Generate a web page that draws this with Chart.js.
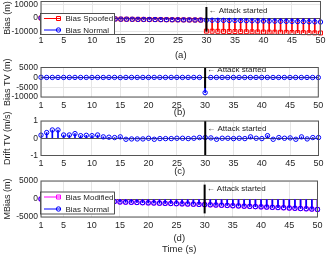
<!DOCTYPE html>
<html>
<head>
<meta charset="utf-8">
<script src="https://cdn.jsdelivr.net/npm/chart.js@4.4.0/dist/chart.umd.min.js"></script>
<style>
  html, body { margin: 0; padding: 0; background: #fff; overflow: hidden; }
  #wrap { position: relative; width: 326px; height: 255px; overflow: hidden; }
  #wrap canvas { position: absolute; left: 0; top: -12px; }
</style>
</head>
<body>
<div id="wrap">
  <canvas id="chartA" width="326" height="267"></canvas>
  <canvas id="chartB" width="326" height="267"></canvas>
  <canvas id="chartC" width="326" height="267"></canvas>
  <canvas id="chartD" width="326" height="267"></canvas>
</div>
<script>
// data
var timeSec = [1,2,3,4,5,6,7,8,9,10,11,12,13,14,15,16,17,18,19,20,21,22,23,24,25,
  26,27,28,29,30,31,32,33,34,35,36,37,38,39,40,41,42,43,44,45,46,47,48,49,50];
var xTicks = [1,5,10,15,20,25,30,35,40,45,50];

var biasNormal = [0,-60,-110,-170,-220,-280,-330,-390,-440,-500,-550,-610,-660,-700,-830,
  -880,-920,-980,-1030,-1080,-1120,-1170,-1220,-1260,-1300,-1350,-1400,-1450,-1500,-1560,
  -1620,-1680,-1740,-1800,-1870,-1930,-2000,-2060,-2120,-2190,-2250,-2320,-2380,-2440,-2510,
  -2580,-2650,-2720,-2800,-2900];
var biasSpoofed = [0,-60,-110,-170,-220,-280,-330,-390,-440,-500,-550,-610,-660,-700,-830,
  -880,-920,-980,-1030,-1080,-1120,-1170,-1220,-1260,-1300,-1350,-1400,-1450,-1500,-9560,
  -9620,-9680,-9740,-9800,-9870,-9930,-10000,-10060,-10120,-10190,-10250,-10320,-10380,-10440,-10510,
  -10580,-10650,-10720,-10800,-10900];
var biasTV = [0,-60,-50,-60,-50,-60,-50,-60,-50,-60,-50,-60,-50,-40,-130,
  -50,-40,-60,-50,-50,-40,-50,-50,-40,-40,-50,-50,-50,-50,-7800,
  -60,-60,-60,-60,-70,-60,-70,-60,-60,-70,-60,-70,-60,-60,-70,
  -70,-70,-70,-80,-100];
var driftTV = [0.18,0.33,0.48,0.48,0.19,0.19,0.27,0.15,0.17,0.15,0.19,0.08,0.06,0.04,0.08,
  -0.06,-0.04,-0.04,-0.04,0,-0.06,-0.02,-0.02,-0.02,0,0,-0.02,0,0.04,0.04,
  0.02,-0.06,0,0,-0.02,0,-0.02,0.08,0,-0.02,0.15,-0.06,0.04,0,0.02,
  -0.06,0.08,-0.04,0.04,0.04];
var biasModified = [0,-60,-110,-170,-220,-280,-330,-390,-440,-500,-550,-610,-660,-700,-830,
  -880,-920,-980,-1030,-1080,-1120,-1170,-1220,-1260,-1300,-1350,-1400,-1450,-1500,-1560,
  -1620,-1680,-1740,-1800,-1870,-1930,-2000,-2060,-2120,-2190,-2250,-2320,-2380,-2440,-2510,
  -2580,-2650,-2720,-2800,-2900];

var ticksA = [-10000, 0, 10000];
var ticksB = [-10000, -5000, 0, 5000];
var ticksC = [-1, 0, 1];
var ticksD = [-5000, 0, 5000];

var attackTime = 30;

var FONT = "'Liberation Sans', Arial, sans-serif";
var TXT = '#262626';
var SHIFT = 12; // canvases sit 12px above the page so top tick labels can overflow

function pts(vals) {
  return timeSec.map(function(t, i) { return { x: t, y: vals[i] }; });
}

// stems as 1px bars, markers as a line dataset without line
function stem(vals, color, order) {
  return { type: 'bar', data: pts(vals), backgroundColor: color, borderWidth: 0,
    barThickness: 1, grouped: false, order: order };
}
function marks(vals, color, style, r, order) {
  return { type: 'line', data: pts(vals), showLine: false, pointStyle: style,
    pointRadius: r, pointBorderWidth: 1, pointBorderColor: color,
    pointBackgroundColor: 'rgba(0,0,0,0)', clip: false, order: order };
}

var panelPlugin = {
  id: 'panel',
  beforeDatasetsDraw: function(chart) {
    // stem baseline at zero
    var ctx = chart.ctx, a = chart.chartArea;
    var y0 = Math.round(chart.scales.y.getPixelForValue(0)) + 0.5;
    ctx.save();
    ctx.strokeStyle = '#555';
    ctx.lineWidth = 1;
    ctx.beginPath();
    ctx.moveTo(a.left, y0);
    ctx.lineTo(a.right, y0);
    ctx.stroke();
    ctx.restore();
  },
  afterDatasetsDraw: function(chart, args, o) {
    var ctx = chart.ctx, a = chart.chartArea;
    var xs = chart.scales.x, ys = chart.scales.y;
    ctx.save();
    // attack marker
    var px = xs.getPixelForValue(attackTime);
    ctx.strokeStyle = '#000';
    ctx.lineWidth = 2;
    ctx.beginPath();
    ctx.moveTo(px, ys.getPixelForValue(o.lineTop));
    ctx.lineTo(px, ys.getPixelForValue(o.lineBottom));
    ctx.stroke();
    ctx.fillStyle = TXT;
    ctx.font = '8px ' + FONT;
    ctx.textBaseline = 'middle';
    ctx.textAlign = 'left';
    ctx.fillText('\u2190 Attack started', px + 2, ys.getPixelForValue(o.textY));
    // legend box
    if (o.legend) {
      var L = o.legend, ly = L.y + SHIFT;
      ctx.fillStyle = '#fff';
      ctx.fillRect(L.x, ly, L.w, L.h);
      ctx.strokeStyle = '#262626';
      ctx.lineWidth = 0.8;
      ctx.strokeRect(L.x + 0.5, ly + 0.5, L.w - 1, L.h - 1);
      L.items.forEach(function(it, i) {
        var yy = ly + L.row0 + i * L.rowH;
        ctx.strokeStyle = it.color;
        ctx.lineWidth = 1;
        ctx.beginPath();
        ctx.moveTo(L.x + 4, yy);
        ctx.lineTo(L.x + 20, yy);
        ctx.stroke();
        ctx.beginPath();
        if (it.style === 'rect') {
          ctx.rect(L.x + 16.5, yy - 2, 4, 4);
        } else {
          ctx.arc(L.x + 18.5, yy, 2.2, 0, Math.PI * 2);
        }
        ctx.stroke();
        ctx.fillStyle = TXT;
        ctx.font = '8px ' + FONT;
        ctx.fillText(it.label, L.x + 25.5, yy + 0.5);
      });
    }
    // axes box
    ctx.strokeStyle = '#555';
    ctx.lineWidth = 1;
    ctx.strokeRect(a.left, a.top, a.right - a.left, a.bottom - a.top);
    ctx.restore();
  }
};

function makePanel(id, datasets, cfg) {
  var ctx = document.getElementById(id).getContext('2d');
  return new Chart(ctx, {
    type: 'bar',
    data: { datasets: datasets },
    plugins: [panelPlugin],
    options: {
      responsive: false,
      animation: false,
      devicePixelRatio: 1,
      events: [],
      layout: { padding: { top: cfg.top + SHIFT, right: 5, left: 0, bottom: 255 - cfg.bottom - cfg.xH } },
      plugins: {
        legend: { display: false },
        tooltip: { enabled: false },
        panel: cfg.panel
      },
      scales: {
        x: {
          type: 'linear', min: 1, max: 50, offset: false,
          grid: { offset: false, color: '#e6e6e6', drawTicks: false },
          border: { display: false },
          ticks: { color: TXT, font: { family: FONT, size: 9 }, padding: cfg.tickPad, maxRotation: 0,
            autoSkip: false, callback: function(v) { return String(v); } },
          afterBuildTicks: function(s) { s.ticks = xTicks.map(function(v) { return { value: v }; }); },
          afterFit: function(s) { s.height = cfg.xH; },
          title: { display: true, text: cfg.xTitle, color: TXT, padding: 0,
            font: { family: FONT, size: 9.5, lineHeight: 1.2 } }
        },
        y: {
          min: cfg.ymin, max: cfg.ymax,
          grid: { color: '#e6e6e6', drawTicks: false },
          border: { display: false },
          ticks: { color: TXT, font: { family: FONT, size: 8.5 }, padding: 3, autoSkip: false,
            callback: function(v) { return String(v); } },
          afterBuildTicks: function(s) { s.ticks = cfg.yTicks.map(function(v) { return { value: v }; }); },
          afterFit: function(s) { s.width = 41; },
          title: { display: true, text: cfg.yTitle, color: TXT, padding: { top: 2, bottom: 0 },
            font: { family: FONT, size: 9, lineHeight: 1.2 } }
        }
      }
    }
  });
}

// (a) Bias
makePanel('chartA', [
  stem(biasSpoofed, '#ff0000', 4),
  marks(biasSpoofed, '#ff0000', 'rect', 2.8, 3),
  stem(biasNormal, '#0000ff', 2),
  marks(biasNormal, '#0000ff', 'circle', 2.2, 1)
], {
  top: 1.5, bottom: 34.5, xH: 26.8, tickPad: 0.5, ymin: -12000, ymax: 12000, yTicks: ticksA,
  xTitle: '(a)', yTitle: 'Bias (m)',
  panel: { lineTop: 8000, lineBottom: -9900, textY: 5600,
    legend: { x: 40, y: 13, w: 75, h: 22, row0: 5.5, rowH: 11.5, items: [
      { label: 'Bias Spoofed', color: '#ff0000', style: 'rect' },
      { label: 'Bias Normal', color: '#0000ff', style: 'circle' }] } }
});

// (b) Bias TV
makePanel('chartB', [
  stem(biasTV, '#0000ff', 2),
  marks(biasTV, '#0000ff', 'circle', 2.2, 1)
], {
  top: 67.5, bottom: 97, xH: 20.8, tickPad: 2.7, ymin: -10000, ymax: 5000, yTicks: ticksB,
  xTitle: '(b)', yTitle: 'Bias TV (m)',
  panel: { lineTop: 5000, lineBottom: -5500, textY: 3600 }
});

// (c) Drift TV
makePanel('chartC', [
  stem(driftTV, '#0000ff', 2),
  marks(driftTV, '#0000ff', 'circle', 2.2, 1)
], {
  top: 121, bottom: 155.5, xH: 21.3, tickPad: 2.5, ymin: -1, ymax: 1, yTicks: ticksC,
  xTitle: '(c)', yTitle: 'Drift TV (m/s)',
  panel: { lineTop: 1, lineBottom: -1, textY: 0.54 }
});

// (d) MBias
makePanel('chartD', [
  stem(biasModified, '#ff00ff', 4),
  marks(biasModified, '#ff00ff', 'rect', 2.8, 3),
  stem(biasNormal, '#0000ff', 2),
  marks(biasNormal, '#0000ff', 'circle', 2.2, 1)
], {
  top: 181, bottom: 217, xH: 38, tickPad: 3.5, ymin: -5000, ymax: 5000, yTicks: ticksD,
  xTitle: ['(d)', 'Time (s)'], yTitle: 'MBias (m)',
  panel: { lineTop: 4000, lineBottom: -4000, textY: 2800,
    legend: { x: 40, y: 191.5, w: 75, h: 23, row0: 5.5, rowH: 12, items: [
      { label: 'Bias Modified', color: '#ff00ff', style: 'rect' },
      { label: 'Bias Normal', color: '#0000ff', style: 'circle' }] } }
});
</script>
</body>
</html>
